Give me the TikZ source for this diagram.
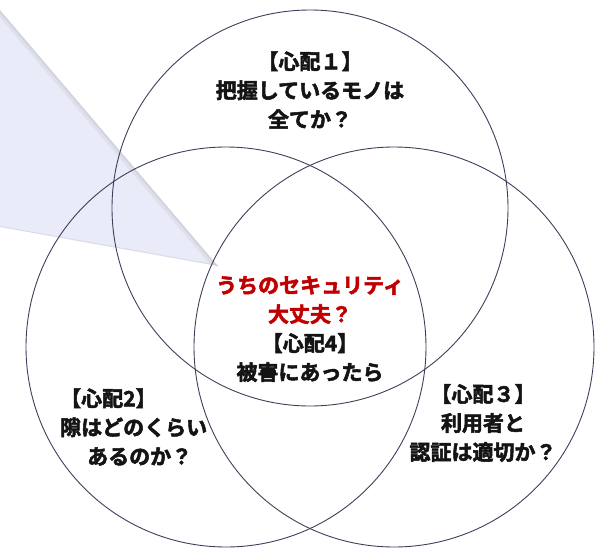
\documentclass[tikz,border=0pt]{standalone}
\usepackage{fontspec}
\newfontfamily\jp{Noto Sans CJK JP}[BoldFont={Noto Sans CJK JP Bold},BoldFeatures={FakeBold=2.5}]
\definecolor{ringcol}{RGB}{62,62,90}
\definecolor{wedgecol}{RGB}{233,235,249}
\definecolor{alertcol}{RGB}{192,0,0}
\definecolor{inkcol}{RGB}{20,20,20}
\begin{document}
\begin{tikzpicture}[x=1pt,y=-1pt,
  ring/.style={circle,draw=ringcol,line width=0.9pt,inner sep=0pt,minimum size=#1},
  txt/.style={font=\jp\bfseries\fontsize{21}{29}\selectfont,align=center,text=inkcol,inner sep=0pt},
]
\useasboundingbox (0,0) rectangle (595,549);
% callout wedge
\coordinate (w1) at (0,10);
\coordinate (w2) at (0,227);
\coordinate (tip) at (218,266);
\fill[wedgecol] (w1) -- (tip) -- (w2) -- cycle;
\begin{scope}
  \clip (w1) -- (tip) -- (w2) -- cycle;
  \draw[gray,opacity=0.10,line width=10pt] (w1) -- (tip);
  \draw[gray,opacity=0.12,line width=4pt] (w1) -- (tip);
  \draw[gray,opacity=0.15,line width=2pt] (w2) -- (tip);
\end{scope}
% circles
\node[ring=396pt] (c1) at (310,208) {};
\node[ring=400pt] (c2) at (226,347) {};
\node[ring=400pt] (c3) at (394,347) {};
% texts
\node[txt] (t1) at (310,90) {【心配１】\\把握しているモノは\\全てか？};
\node[txt] (t4) at (310,329) {\textcolor{alertcol}{うちのセキュリティ}\\\textcolor{alertcol}{大丈夫？}\\【心配4】\\被害にあったら};
\node[txt,align=left,anchor=west] (t2) at (60,427) {【心配2】\\隙はどのくらい\\\hspace*{27pt}あるのか？};
\node[txt] (t3) at (483,423) {【心配３】\\利用者と\\認証は適切か？};
\end{tikzpicture}
\end{document}
